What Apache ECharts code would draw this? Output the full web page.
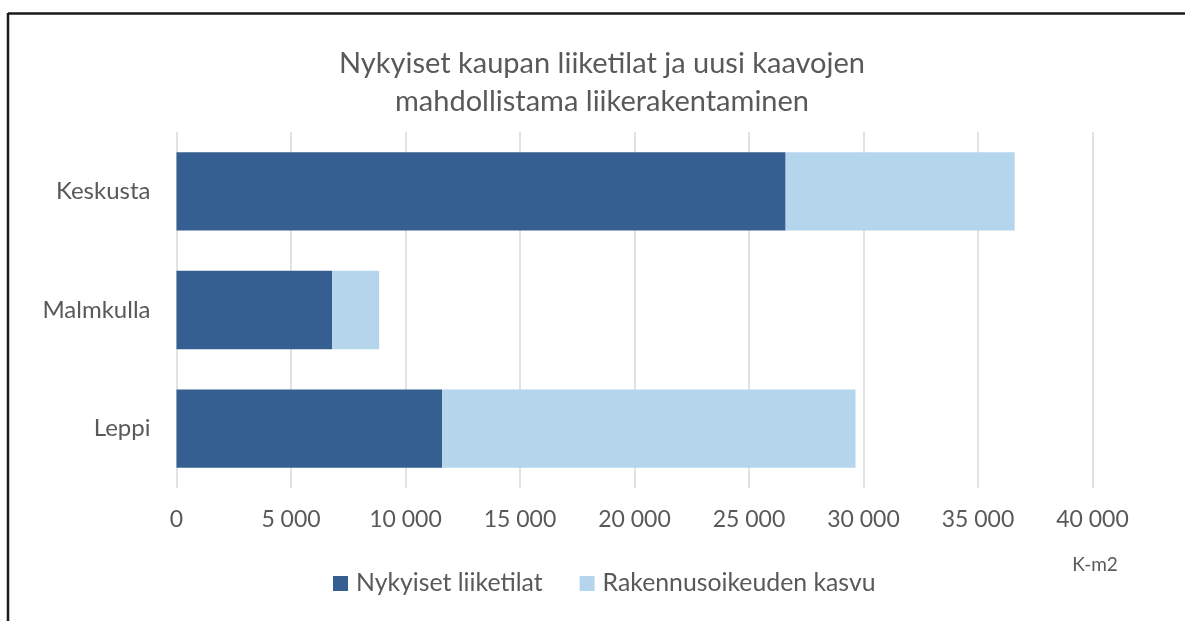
<!DOCTYPE html>
<html>
<head>
<meta charset="utf-8">
<script src="https://cdn.jsdelivr.net/npm/echarts@6/dist/echarts.min.js"></script>
<style>
html,body{margin:0;padding:0;background:#fff;}
#chart{width:1185px;height:621px;}
</style>
</head>
<body>
<div id="chart"></div>
<script>
const categories = ['Keskusta', 'Malmkulla', 'Leppi'];
const seriesNames = ['Nykyiset liiketilat', 'Rakennusoikeuden kasvu'];
const existing = [26600, 6800, 11600];
const growth = [10000, 2050, 18050];
const axisMax = 40000;
const axisStep = 5000;

const FONT = 'Lato';
const TXT = '#595959';

const chart = echarts.init(document.getElementById('chart'));
chart.setOption({
  animation: false,
  textStyle: { fontFamily: FONT },
  title: [
    {
      text: 'Nykyiset kaupan liiketilat ja uusi kaavojen\nmahdollistama liikerakentaminen',
      left: 597, top: 40, textAlign: 'center',
      textStyle: { fontFamily: FONT, fontSize: 29, fontWeight: 'normal', color: TXT, lineHeight: 38 }
    },
    {
      text: 'K-m2',
      left: 1090, top: 550, textAlign: 'center',
      textStyle: { fontFamily: FONT, fontSize: 19, fontWeight: 'normal', color: TXT }
    }
  ],
  legend: {
    data: seriesNames,
    left: 328, top: 566,
    itemWidth: 15, itemHeight: 15, itemGap: 37,
    icon: 'rect',
    textStyle: { fontFamily: FONT, fontSize: 24.8, color: TXT, padding: [0, 0, 0, 3] }
  },
  grid: { left: 176.5, right: 92.5, top: 132, bottom: 133, containLabel: false },
  xAxis: {
    type: 'value', min: 0, max: axisMax, interval: axisStep,
    axisLine: { show: false }, axisTick: { show: false },
    splitLine: { lineStyle: { color: '#d9d9d9', width: 1.5 } },
    axisLabel: {
      fontFamily: FONT, fontSize: 23, color: TXT, margin: 20,
      formatter: v => v === 0 ? '0' : String(v).replace(/\B(?=(\d{3})+(?!\d))/g, ' ')
    }
  },
  yAxis: {
    type: 'category', data: categories, inverse: true,
    axisLine: { show: false }, axisTick: { show: false },
    axisLabel: { fontFamily: FONT, fontSize: 24, color: TXT, margin: 26 }
  },
  series: [
    {
      name: seriesNames[0], type: 'bar', stack: 'total', data: existing,
      barCategoryGap: '34%',
      itemStyle: { color: '#365f91' }
    },
    {
      name: seriesNames[1], type: 'bar', stack: 'total', data: growth,
      itemStyle: { color: '#b4d5ec' }
    }
  ],
  graphic: [
    { type: 'line', shape: { x1: 8, y1: 13.5, x2: 1185, y2: 13.5 }, style: { stroke: '#1a1a1a', lineWidth: 2.5 } },
    { type: 'line', shape: { x1: 8, y1: 13, x2: 8, y2: 621 }, style: { stroke: '#1a1a1a', lineWidth: 2.5 } }
  ]
});
</script>
</body>
</html>
